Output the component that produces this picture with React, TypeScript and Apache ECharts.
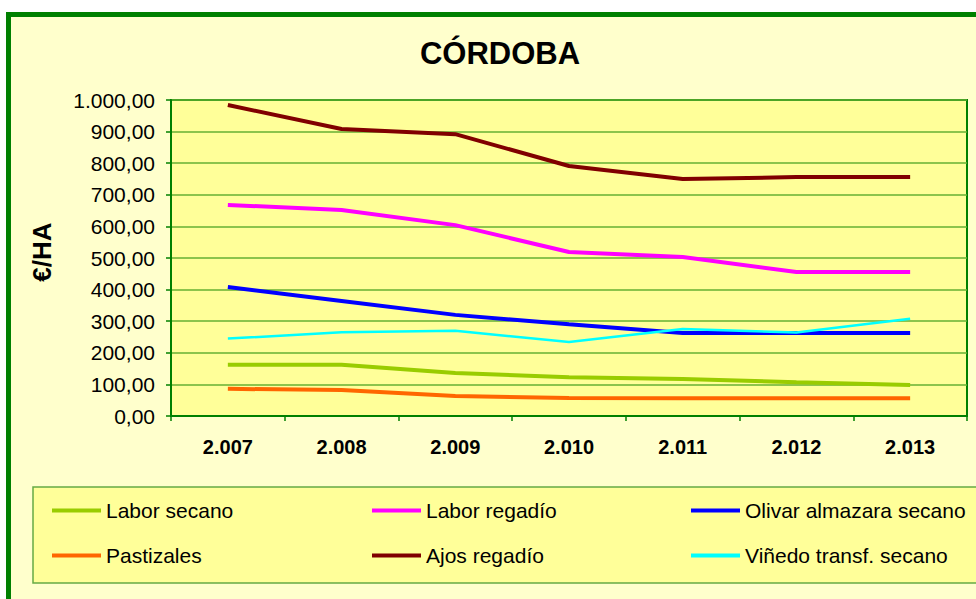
import React, { useEffect, useRef } from "react";
import * as echarts from "echarts";

const categories = ["2.007", "2.008", "2.009", "2.010", "2.011", "2.012", "2.013"];
const laborSecano = [162, 162, 136, 123, 117, 107, 98];
const laborRegadio = [668, 652, 604, 519, 503, 456, 456];
const olivarSecano = [408, 364, 320, 290, 263, 263, 263];
const pastizales = [86, 82, 63, 57, 56, 56, 56];
const ajosRegadio = [984, 908, 892, 791, 750, 756, 756];
const vinedoSecano = [245, 265, 270, 234, 275, 264, 308];
const yTicks = [0, 100, 200, 300, 400, 500, 600, 700, 800, 900, 1000];

const FONT = "'Liberation Sans', Arial, sans-serif";

function fmt(v: number): string {
  const s = Math.round(v).toString();
  const withDots = s.replace(/\B(?=(\d{3})+(?!\d))/g, ".");
  return withDots + ",00";
}

export default function App() {
  const ref = useRef<HTMLDivElement>(null);
  useEffect(() => {
    if (!ref.current) return;
    const chart = echarts.init(ref.current, undefined, { renderer: "svg" });
    const series = [
      { name: "Labor secano", data: laborSecano, color: "#99CC00", w: 4 },
      { name: "Labor regadío", data: laborRegadio, color: "#FF00FF", w: 4 },
      { name: "Olivar almazara secano", data: olivarSecano, color: "#0000FF", w: 4 },
      { name: "Pastizales", data: pastizales, color: "#FF6600", w: 4 },
      { name: "Ajos regadío", data: ajosRegadio, color: "#800000", w: 4 },
      { name: "Viñedo transf. secano", data: vinedoSecano, color: "#00FFFF", w: 2.5 },
    ];
    const legendCommon = {
      orient: "vertical" as const,
      top: 500,
      padding: 0,
      itemWidth: 49,
      itemHeight: 4,
      itemGap: 24,
      icon: "rect",
      textStyle: { fontFamily: FONT, fontSize: 21, color: "#000" },
    };
    chart.setOption({
      animation: false,
      backgroundColor: "#FFFFFF",
      textStyle: { fontFamily: FONT },
      graphic: [
        {
          type: "rect",
          z: -10,
          shape: { x: 8.5, y: 14.5, width: 990, height: 600 },
          style: { fill: "#FFFFCC", stroke: "#008000", lineWidth: 5 },
          silent: true,
        },
        {
          type: "rect",
          z: -5,
          shape: { x: 33, y: 487, width: 960, height: 96 },
          style: { fill: "#FFFF99", stroke: "#66AA44", lineWidth: 1.5 },
          silent: true,
        },
        {
          type: "text",
          x: 42,
          y: 252,
          rotation: Math.PI / 2,
          style: {
            text: "€/HA",
            fontFamily: FONT,
            fontSize: 26,
            fontWeight: "bold",
            fill: "#000",
            align: "center",
            verticalAlign: "middle",
          },
          silent: true,
        },
      ],
      title: {
        text: "CÓRDOBA",
        left: 500,
        top: 38,
        padding: 0,
        textAlign: "center",
        textStyle: { fontFamily: FONT, fontSize: 31, fontWeight: "bold", color: "#000" },
      },
      legend: [
        { ...legendCommon, left: 52, data: ["Labor secano", "Pastizales"] },
        { ...legendCommon, left: 372, data: ["Labor regadío", "Ajos regadío"] },
        { ...legendCommon, left: 691, data: ["Olivar almazara secano", "Viñedo transf. secano"] },
      ],
      grid: {
        left: 171,
        top: 100,
        right: 9,
        bottom: 183,
        show: true,
        backgroundColor: "#FFFF99",
        borderColor: "#008000",
        borderWidth: 2,
      },
      xAxis: {
        type: "category",
        data: categories,
        boundaryGap: true,
        axisLine: { lineStyle: { color: "#008000", width: 2 } },
        axisTick: { show: true, length: 5, lineStyle: { color: "#008000", width: 1.5 } },
        axisLabel: {
          margin: 21,
          fontFamily: FONT,
          fontSize: 20,
          fontWeight: "bold",
          color: "#000",
        },
      },
      yAxis: {
        type: "value",
        min: 0,
        max: 1000,
        interval: 100,
        axisLine: { show: true, lineStyle: { color: "#008000", width: 2 } },
        axisTick: { show: true, length: 5, lineStyle: { color: "#008000", width: 1.5 } },
        axisLabel: {
          margin: 16,
          fontFamily: FONT,
          fontSize: 21,
          color: "#000",
          formatter: (v: number) => (yTicks.includes(v) ? fmt(v) : ""),
        },
        splitLine: { show: true, lineStyle: { color: "#66B033", width: 1.5 } },
      },
      series: series.map((s) => ({
        name: s.name,
        type: "line",
        data: s.data,
        showSymbol: false,
        symbol: "none",
        color: s.color,
        lineStyle: { color: s.color, width: s.w },
        itemStyle: { color: s.color },
      })),
    });
    return () => chart.dispose();
  }, []);
  return (
    <div
      ref={ref}
      style={{ position: "fixed", left: 0, top: 0, width: 976, height: 599 }}
    />
  );
}
